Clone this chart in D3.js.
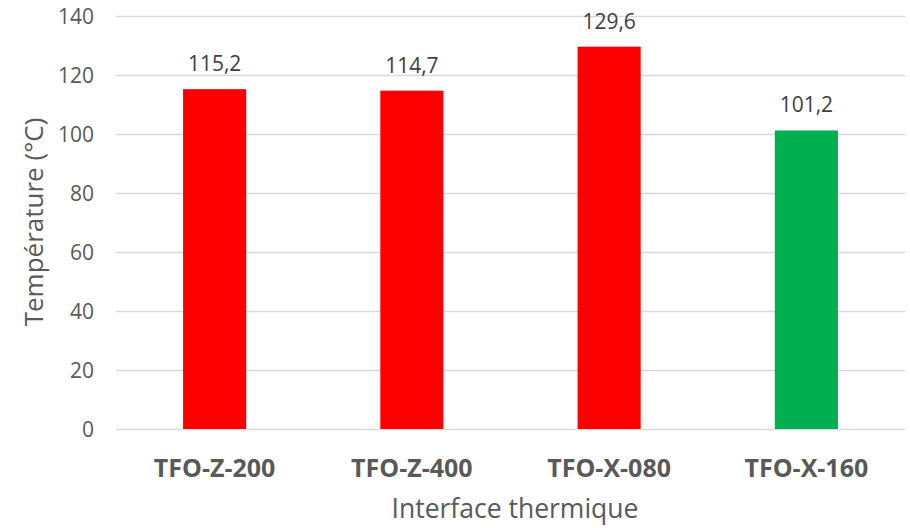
<!DOCTYPE html>
<html>
<head>
<meta charset="utf-8">
<script src="https://cdn.jsdelivr.net/npm/d3@7"></script>
<style>
  html, body { margin: 0; padding: 0; background: #fff; }
  svg { display: block; }
  text { font-family: "Open Sans", Lato, sans-serif; fill: #595959; }
</style>
</head>
<body>
<svg id="chart" width="910" height="528"></svg>
<script>
// Thermal interface temperatures (°C)
const categories = ["TFO-Z-200", "TFO-Z-400", "TFO-X-080", "TFO-X-160"];
const temperatures = [115.2, 114.7, 129.6, 101.2];
const barColors = ["#ff0000", "#ff0000", "#ff0000", "#00b050"];
const yTicks = [0, 20, 40, 60, 80, 100, 120, 140];
const yTitle = "Température (°C)";
const xTitle = "Interface thermique";

const FONT = "'Open Sans', Lato, sans-serif";
const svg = d3.select("#chart");
const plot = { left: 116, right: 905, top: 16, bottom: 429 };

const x = d3.scaleBand()
  .domain(categories)
  .range([plot.left, plot.right])
  .paddingInner(0.68)
  .paddingOuter(0.34);

const y = d3.scaleLinear()
  .domain([0, 140])
  .range([plot.bottom, plot.top]);

// Horizontal gridlines
svg.append("g")
  .selectAll("line")
  .data(yTicks)
  .join("line")
  .attr("x1", plot.left)
  .attr("x2", plot.right)
  .attr("y1", d => Math.round(y(d)) + 0.5)
  .attr("y2", d => Math.round(y(d)) + 0.5)
  .attr("stroke", "#d9d9d9")
  .attr("stroke-width", d => d === 0 ? 1.5 : 1.3);

// Y axis tick labels
const yAxis = d3.axisLeft(y).tickValues(yTicks).tickSize(0).tickPadding(0);
svg.append("g")
  .attr("transform", `translate(${94},0)`)
  .call(yAxis)
  .call(g => g.select(".domain").remove())
  .call(g => g.selectAll("text")
    .attr("font-size", 21)
    .attr("dy", "0.36em")
    .style("fill", "#595959")
    .style("font-family", FONT));

// Bars
svg.append("g")
  .selectAll("rect")
  .data(categories)
  .join("rect")
  .attr("x", d => x(d))
  .attr("width", x.bandwidth())
  .attr("y", (d, i) => y(temperatures[i]))
  .attr("height", (d, i) => y(0) - y(temperatures[i]))
  .attr("fill", (d, i) => barColors[i]);

// Value labels
const fmt = v => v.toFixed(1).replace(".", ",");
svg.append("g")
  .selectAll("text")
  .data(categories)
  .join("text")
  .attr("x", d => x(d) + x.bandwidth() / 2)
  .attr("y", (d, i) => y(temperatures[i]) - 18)
  .attr("text-anchor", "middle")
  .attr("font-size", 21)
  .style("fill", "#404040")
  .text((d, i) => fmt(temperatures[i]));

// X axis category labels
const xAxis = d3.axisBottom(x).tickSize(0).tickPadding(0);
svg.append("g")
  .attr("transform", `translate(0,${458})`)
  .call(xAxis)
  .call(g => g.select(".domain").remove())
  .call(g => g.selectAll("text")
    .attr("font-size", 25)
    .attr("font-weight", "bold")
    .attr("dy", "0.74em")
    .style("fill", "#595959")
    .style("font-family", FONT));

// Axis titles
svg.append("text")
  .attr("x", 515)
  .attr("y", 518)
  .attr("text-anchor", "middle")
  .attr("font-size", 26.5)
  .text(xTitle);

svg.append("text")
  .attr("transform", `translate(${43},${222}) rotate(-90)`)
  .attr("text-anchor", "middle")
  .attr("font-size", 26)
  .text(yTitle);
</script>
</body>
</html>
